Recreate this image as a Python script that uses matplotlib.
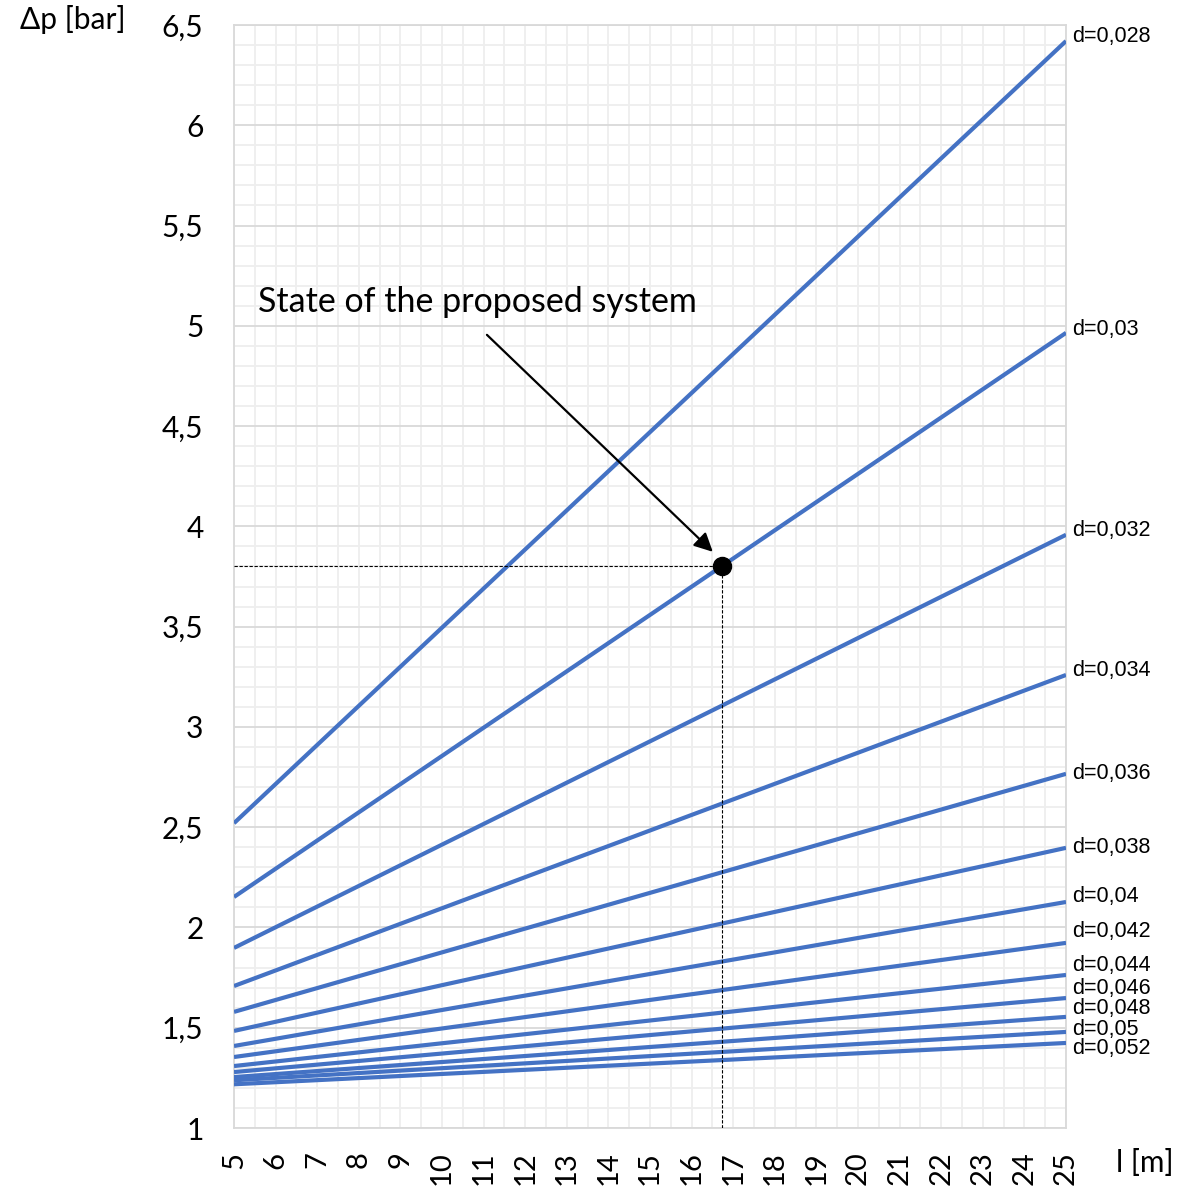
import matplotlib
matplotlib.use("Agg")
import matplotlib.pyplot as plt
from matplotlib.ticker import MultipleLocator, FuncFormatter

# pipe diameters and pressure drop at l=5 m and l=25 m
diameters = ["0,028", "0,03", "0,032", "0,034", "0,036", "0,038", "0,04",
             "0,042", "0,044", "0,046", "0,048", "0,05", "0,052"]
lengths = [5, 25]
dp_start = [2.52, 2.152, 1.898, 1.708, 1.579, 1.484, 1.409,
            1.354, 1.309, 1.279, 1.254, 1.238, 1.218]
dp_end = [6.42, 4.965, 3.958, 3.259, 2.766, 2.397, 2.127,
          1.923, 1.763, 1.648, 1.554, 1.479, 1.424]

# state of the proposed system
state_l = 16.73
state_dp = 3.8

# label heights (moved apart like excel does)
label_y = [6.441, 4.980, 3.978, 3.279, 2.766, 2.401, 2.152,
           1.978, 1.808, 1.698, 1.594, 1.489, 1.394]

blue = "#4472C4"
tickfont = "Lato"

fig = plt.figure(figsize=(11.83, 11.88), dpi=100)
ax = fig.add_axes([234/1183, 1-1128/1188, (1066-234)/1183, (1128-25)/1188])

ax.set_xlim(5, 25)
ax.set_ylim(1, 6.5)

ax.xaxis.set_major_locator(MultipleLocator(1))
ax.xaxis.set_minor_locator(MultipleLocator(0.5))
ax.yaxis.set_major_locator(MultipleLocator(0.5))
ax.yaxis.set_minor_locator(MultipleLocator(0.1))
ax.grid(which="minor", color="#EEEEEE", lw=1.3)
ax.grid(which="major", axis="x", color="#EEEEEE", lw=1.3)
ax.grid(which="major", axis="y", color="#D9D9D9", lw=1.3)
ax.set_axisbelow(True)
for s in ax.spines.values():
    s.set_color("#D9D9D9")
    s.set_linewidth(1.3)

comma = FuncFormatter(lambda v, p: ("%g" % v).replace(".", ","))
ax.yaxis.set_major_formatter(comma)
ax.tick_params(which="both", length=0)
ax.tick_params(axis="y", pad=22, labelsize=21.5)
ax.tick_params(axis="x", pad=17, labelsize=21, labelrotation=90)
for lab in ax.get_xticklabels() + ax.get_yticklabels():
    lab.set_family(tickfont)

for i, d in enumerate(diameters):
    ax.plot(lengths, [dp_start[i], dp_end[i]], color=blue, lw=3, solid_capstyle="butt", zorder=3)
    ax.text(lengths[1] + 0.15, label_y[i], "d=" + d, fontsize=15.5,
            family="Liberation Sans", va="center", ha="left", clip_on=False)

# dashed guides to the state point
ax.plot([5, state_l], [state_dp, state_dp], color="black", lw=0.8, ls=(0, (3, 1.5)), zorder=4)
ax.plot([state_l, state_l], [1, state_dp], color="black", lw=0.8, ls=(0, (3, 1.5)), zorder=4)
ax.plot(state_l, state_dp, "o", color="black", markersize=13, zorder=5)

ax.annotate("", xy=(16.51, 3.873), xytext=(11.08, 4.955),
            arrowprops=dict(arrowstyle="-|>", color="black", lw=1.6,
                            mutation_scale=28, shrinkA=0, shrinkB=0), zorder=5)
ax.text(5.58, 5.12, "State of the proposed system", fontsize=24.5, family=tickfont,
        va="center", ha="left")

fig.text(20/1183, 1-20/1188, "Δp [bar]", fontsize=21.5, family=tickfont, va="center", ha="left")
fig.text(1116/1183, 1-1163/1188, "l [m]", fontsize=21.5, family=tickfont, va="center", ha="left")

fig.savefig("out.png", dpi=100)
